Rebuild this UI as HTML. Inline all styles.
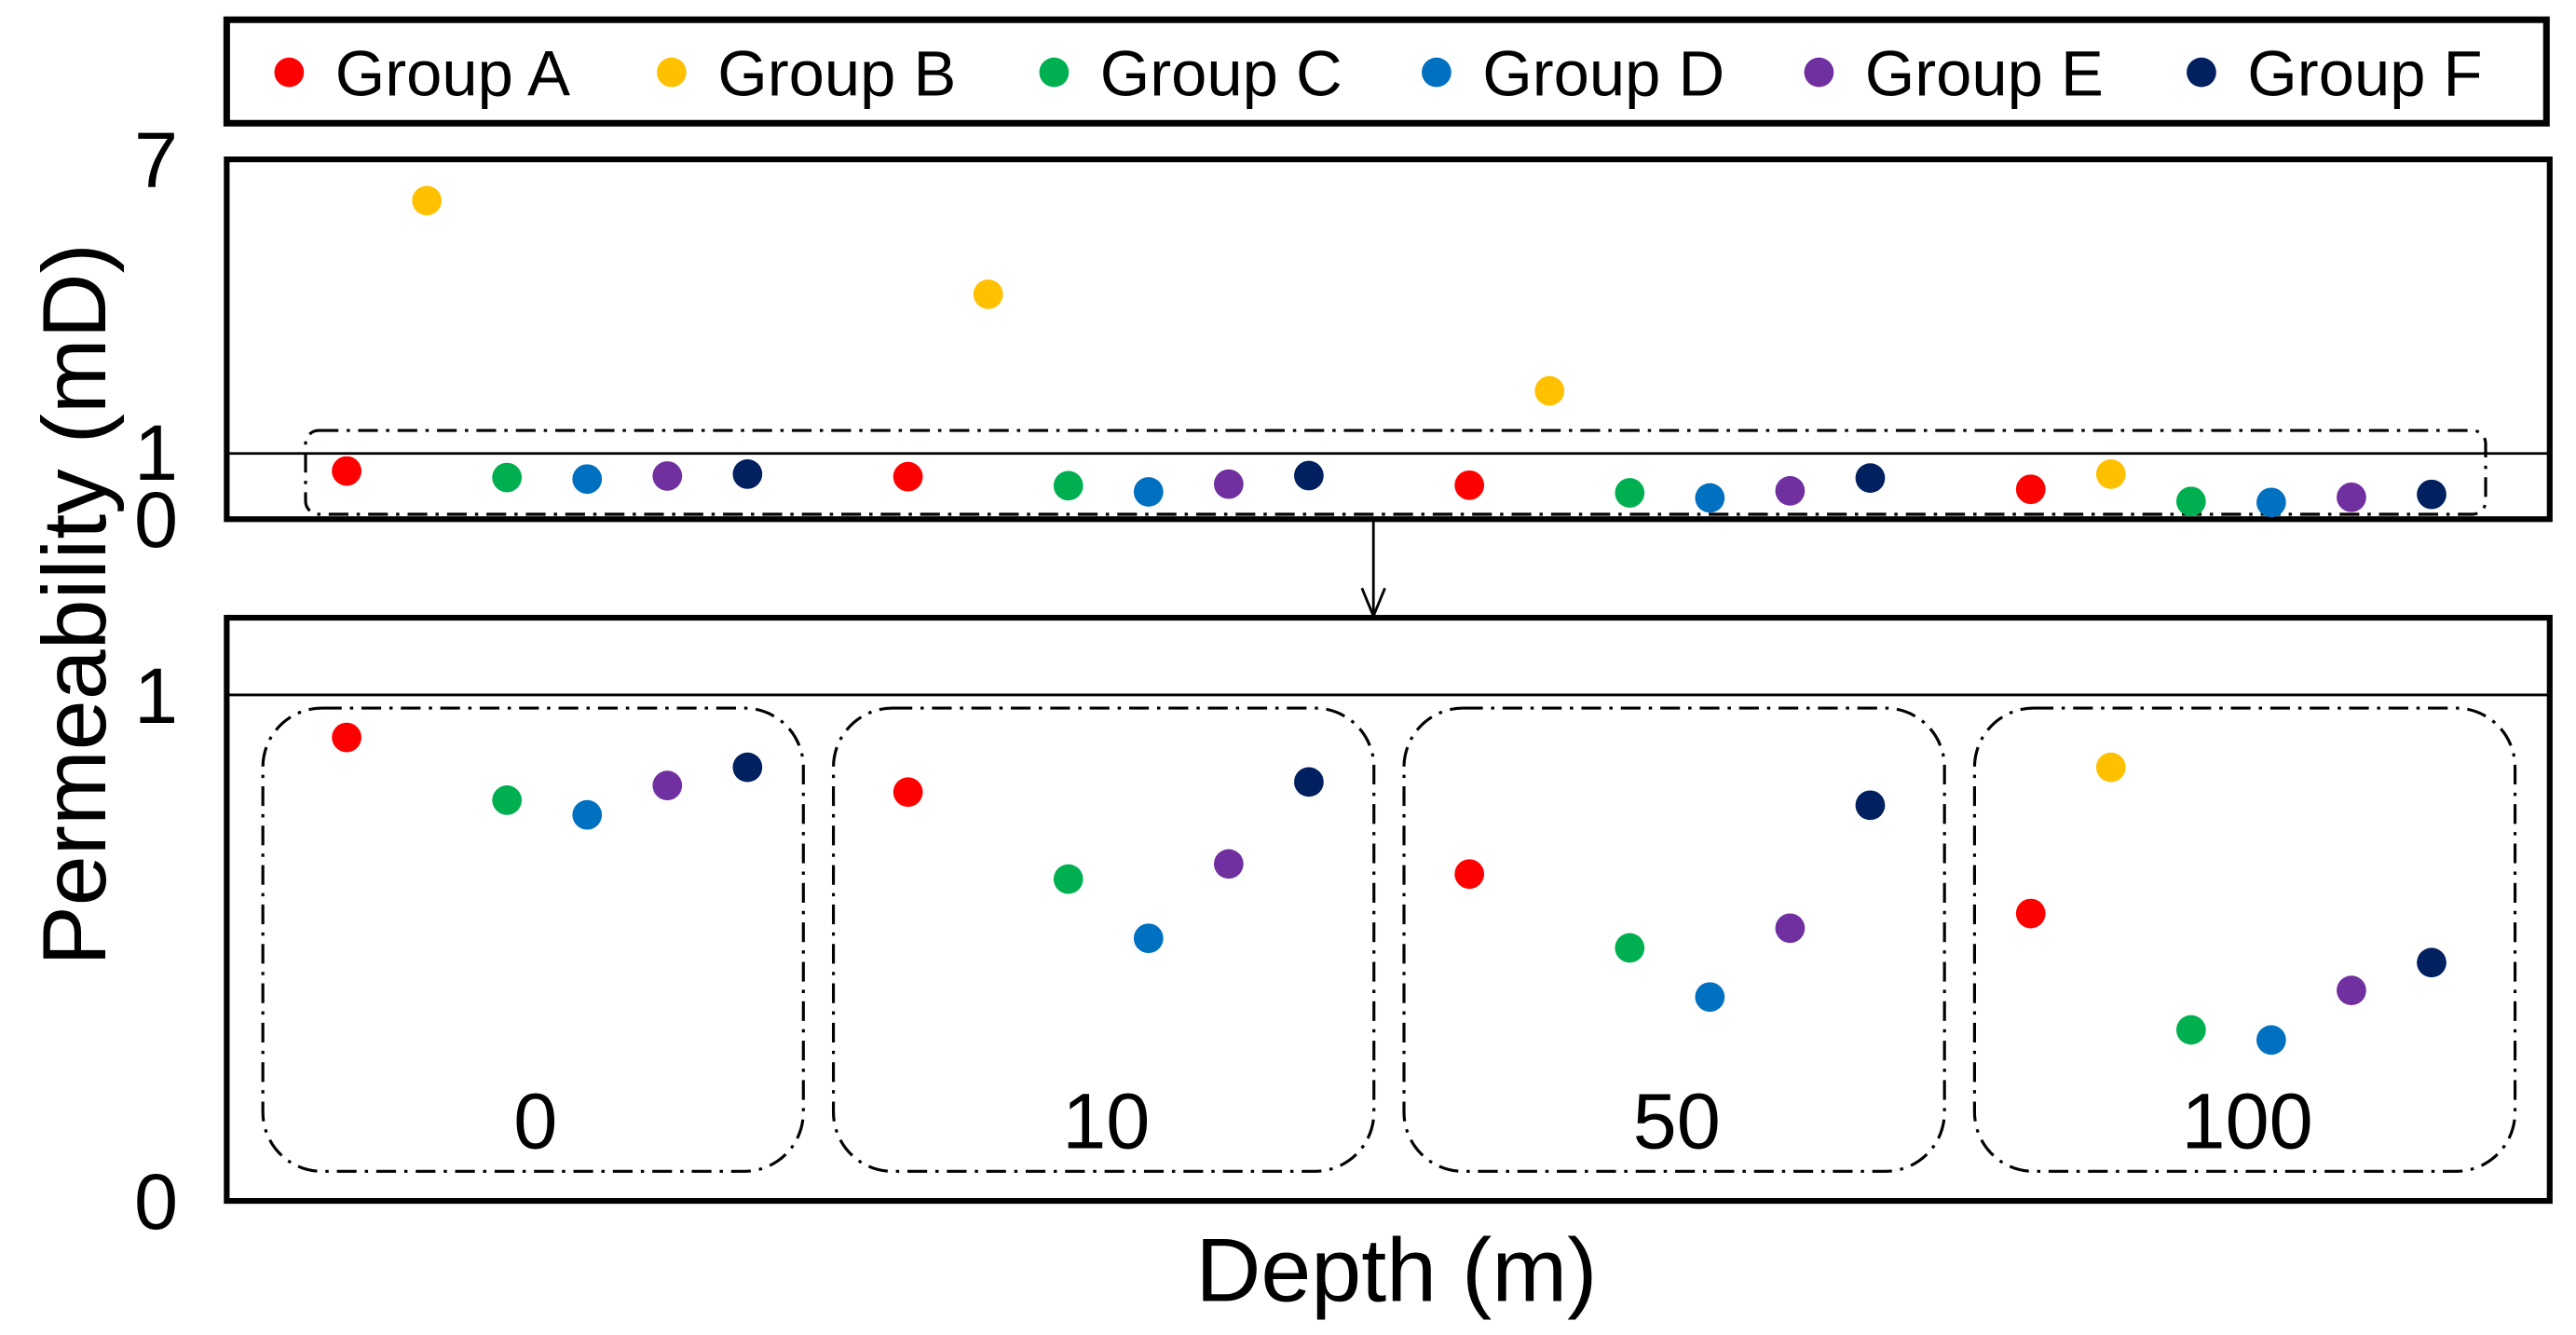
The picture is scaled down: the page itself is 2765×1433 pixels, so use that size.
<!DOCTYPE html>
<html><head><meta charset="utf-8"><style>
html,body{margin:0;padding:0;background:#fff;}
svg{display:block;}
text{font-family:"Liberation Sans",sans-serif;fill:#000;}
</style></head><body>
<svg id="chart" width="2765" height="1433" viewBox="0 0 1568 812.6" xmlns="http://www.w3.org/2000/svg">
<g id="legend">
<rect x="138" y="12" width="1412" height="63" fill="#fff" stroke="#000" stroke-width="4"/>
</g>
<rect x="138" y="97" width="1414" height="219" fill="none" stroke="#000" stroke-width="3.5"/>
<line x1="138" y1="276" x2="1552" y2="276" stroke="#000" stroke-width="1.6"/>
<rect x="186" y="262" width="1327" height="51" rx="8" fill="none" stroke="#000" stroke-width="1.8" stroke-dasharray="12,5,2,5"/>
<g>
<text x="95" y="114" font-size="48" text-anchor="middle">7</text>
<text x="95" y="292" font-size="48" text-anchor="middle">1</text>
<text x="95" y="333" font-size="48" text-anchor="middle">0</text>
</g>
<g>
<line x1="836" y1="317" x2="836" y2="374" stroke="#000" stroke-width="1.6"/>
<polyline points="829,358 836,375 843,358" fill="none" stroke="#000" stroke-width="1.6"/>
</g>
<rect x="138" y="376" width="1414" height="355" fill="none" stroke="#000" stroke-width="3.5"/>
<line x1="138" y1="423" x2="1552" y2="423" stroke="#000" stroke-width="1.6"/>
<text x="95" y="440" font-size="48" text-anchor="middle">1</text>
<text x="95" y="748" font-size="48" text-anchor="middle">0</text>
<text transform="translate(64,368) rotate(-90)" font-size="55" text-anchor="middle">Permeability (mD)</text>
<text x="850" y="792" font-size="55" text-anchor="middle">Depth (m)</text>
<g id="boxes"></g>
<g id="marks"></g>
</svg>
<script>
const depths = ["0","10","50","100"];
const groups = ["Group A","Group B","Group C","Group D","Group E","Group F"];
const colors = ["#ff0000","#ffc000","#00b050","#0070c0","#7030a0","#002060"];
const groupA = [0.916,0.808,0.646,0.568];
const groupB = [6.13,4.23,2.27,0.857];
const groupC = [0.792,0.636,0.500,0.338];
const groupD = [0.763,0.519,0.403,0.318];
const groupE = [0.821,0.666,0.539,0.416];
const groupF = [0.857,0.828,0.782,0.471];
const series = [groupA,groupB,groupC,groupD,groupE,groupF];

const NS="http://www.w3.org/2000/svg";
function xPos(di,si){return 211+di*341.7+si*48.8;}
function yTop(v){return v<=1?316-32*v:276-30*(v-1);}
function yBot(v){return 731-308*v;}
function mk(tag,attrs,parent){const e=document.createElementNS(NS,tag);for(const k in attrs)e.setAttribute(k,attrs[k]);parent.appendChild(e);return e;}

const legend=document.getElementById('legend');
groups.forEach((g,i)=>{
  const cx=176+i*232.8;
  const c=mk('circle',{cx:cx,cy:44,r:9,fill:colors[i]},legend);
  
  
  const t=mk('text',{x:cx+28,y:58,'font-size':39},legend);
  t.textContent=g;
  
  
});

const boxes=document.getElementById('boxes');
depths.forEach((d,di)=>{
  const x0=160+di*347.3;
  const r=mk('rect',{x:x0,y:431,width:329,height:282,rx:36,fill:'none',stroke:'#000','stroke-width':1.8,'stroke-dasharray':'12,5,2,5'},boxes);
  
  
  const t=mk('text',{x:x0+166,y:699,'font-size':48,'text-anchor':'middle'},boxes);
  t.textContent=d;
  
  
});

const marks=document.getElementById('marks');
series.forEach((vals,si)=>{
  vals.forEach((v,di)=>{
    const c=mk('circle',{cx:xPos(di,si),cy:yTop(v),r:9,fill:colors[si]},marks);
    
    
    if(v<=1){
      const c2=mk('circle',{cx:xPos(di,si),cy:yBot(v),r:9,fill:colors[si]},marks);
      
      
    }
  });
});
</script>
</body></html>
